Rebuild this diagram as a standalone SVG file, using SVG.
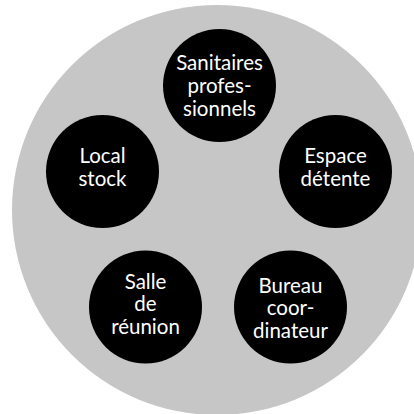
<svg xmlns="http://www.w3.org/2000/svg" width="414" height="414" viewBox="0 0 414 414">
<style>
.bg{fill:#c6c6c6}
.node{fill:#000}
text{fill:#fff;font-family:Lato,"Noto Sans","Liberation Sans",sans-serif;font-size:20.5px;text-anchor:middle}
</style>
<rect width="414" height="414" fill="#fff"/>
<circle class="bg" cx="217" cy="210" r="205"/>
<g id="connectors"></g>
<g id="sanitaires">
<circle class="node" cx="219.5" cy="85.5" r="56.5"/>
<text x="219.5" y="69.5">Sanitaires</text>
<text x="219.5" y="92.5">profes-</text>
<text x="219.5" y="115.5">sionnels</text>
</g>
<g id="espace">
<circle class="node" cx="335.5" cy="171.5" r="56.5"/>
<text x="335.5" y="163">Espace</text>
<text x="335.5" y="186">détente</text>
</g>
<g id="local">
<circle class="node" cx="102.5" cy="171.5" r="56.5"/>
<text x="102.5" y="163">Local</text>
<text x="102.5" y="186">stock</text>
</g>
<g id="salle">
<circle class="node" cx="145.5" cy="307" r="56.5"/>
<text x="145.5" y="288.5">Salle</text>
<text x="145.5" y="311">de</text>
<text x="145.5" y="333.5">réunion</text>
</g>
<g id="bureau">
<circle class="node" cx="290.5" cy="307" r="56.5"/>
<text x="290.5" y="292.5">Bureau</text>
<text x="290.5" y="315">coor-</text>
<text x="290.5" y="337.5">dinateur</text>
</g>
</svg>
